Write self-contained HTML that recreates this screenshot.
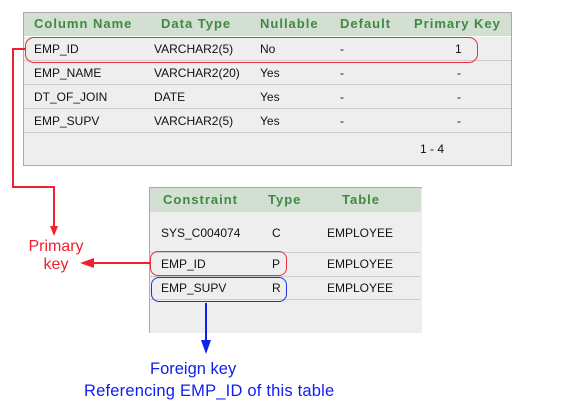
<!DOCTYPE html>
<html><head><style>
body{margin:0;width:562px;height:411px;background:#fff;position:relative;overflow:hidden;font-family:"Liberation Sans",Arial,sans-serif;}
.a{position:absolute;white-space:nowrap}
.h{font-weight:bold;color:#3f8a3f;font-size:13px;letter-spacing:1px}
.d{font-size:12px;color:#111}
</style></head><body>
<!-- table 1 -->
<div class="a" style="left:23px;top:12px;width:487px;height:152px;border:1px solid #aaa;background:#eeeeee"></div>
<div class="a" style="left:24px;top:13px;width:487px;height:23px;background:#d2dfd2"></div>
<div class="a" style="left:24px;top:60px;width:487px;height:1px;background:#ccc"></div>
<div class="a" style="left:24px;top:84px;width:487px;height:1px;background:#ccc"></div>
<div class="a" style="left:24px;top:108px;width:487px;height:1px;background:#ccc"></div>
<div class="a" style="left:24px;top:132px;width:487px;height:1px;background:#ccc"></div>
<div class="a" style="left:24px;top:36px;width:487px;height:1px;background:#fff"></div>
<div class="a h" style="left:34px;top:16px">Column Name</div>
<div class="a h" style="left:161px;top:16px">Data Type</div>
<div class="a h" style="left:260px;top:16px">Nullable</div>
<div class="a h" style="left:340px;top:16px">Default</div>
<div class="a h" style="left:414px;top:16px">Primary Key</div>
<div class="a d" style="left:34px;top:42px">EMP_ID</div><div class="a d" style="left:154px;top:42px">VARCHAR2(5)</div><div class="a d" style="left:260px;top:42px">No</div><div class="a d" style="left:340px;top:42px">-</div><div class="a d" style="left:455px;top:42px">1</div>
<div class="a d" style="left:34px;top:66px">EMP_NAME</div><div class="a d" style="left:154px;top:66px">VARCHAR2(20)</div><div class="a d" style="left:260px;top:66px">Yes</div><div class="a d" style="left:340px;top:66px">-</div><div class="a d" style="left:457px;top:66px">-</div>
<div class="a d" style="left:34px;top:90px">DT_OF_JOIN</div><div class="a d" style="left:154px;top:90px">DATE</div><div class="a d" style="left:260px;top:90px">Yes</div><div class="a d" style="left:340px;top:90px">-</div><div class="a d" style="left:457px;top:90px">-</div>
<div class="a d" style="left:34px;top:114px">EMP_SUPV</div><div class="a d" style="left:154px;top:114px">VARCHAR2(5)</div><div class="a d" style="left:260px;top:114px">Yes</div><div class="a d" style="left:340px;top:114px">-</div><div class="a d" style="left:457px;top:114px">-</div>
<div class="a d" style="left:420px;top:142px">1 - 4</div>
<div class="a" style="left:25px;top:37px;width:451px;height:24px;border:1px solid #e83040;border-radius:9px"></div>
<!-- table 2 -->
<div class="a" style="left:149px;top:187px;width:272px;height:145px;background:#eeeeee;border-left:1px solid #aaa;border-top:1px solid #aaa"></div>
<div class="a" style="left:150px;top:188px;width:271px;height:24px;background:#d2dfd2"></div>
<div class="a" style="left:150px;top:252px;width:271px;height:1px;background:#ccc"></div>
<div class="a" style="left:150px;top:276px;width:271px;height:1px;background:#ccc"></div>
<div class="a" style="left:150px;top:299px;width:271px;height:1px;background:#ccc"></div>
<div class="a h" style="left:163px;top:192px">Constraint</div>
<div class="a h" style="left:268px;top:192px">Type</div>
<div class="a h" style="left:342px;top:192px">Table</div>
<div class="a d" style="left:161px;top:226px">SYS_C004074</div><div class="a d" style="left:272px;top:226px">C</div><div class="a d" style="left:327px;top:226px">EMPLOYEE</div>
<div class="a d" style="left:161px;top:257px">EMP_ID</div><div class="a d" style="left:272px;top:257px">P</div><div class="a d" style="left:327px;top:257px">EMPLOYEE</div>
<div class="a d" style="left:161px;top:281px">EMP_SUPV</div><div class="a d" style="left:272px;top:281px">R</div><div class="a d" style="left:327px;top:281px">EMPLOYEE</div>
<div class="a" style="left:150px;top:251px;width:135px;height:23px;border:1px solid #e83040;border-radius:8px"></div>
<div class="a" style="left:151px;top:277px;width:134px;height:23px;border:1px solid #2030e0;border-radius:8px"></div>
<svg class="a" style="left:0;top:0" width="562" height="411">
<polyline points="25,49 13,49 13,187 54,187 54,228" fill="none" stroke="#f02030" stroke-width="2"/>
<polygon points="50,226 58,226 54,236" fill="#f02030"/>
<line x1="150" y1="263" x2="90" y2="263" stroke="#f02030" stroke-width="2"/>
<polygon points="80,263 94,258 94,268" fill="#f02030"/>
<line x1="206" y1="303" x2="206" y2="342" stroke="#1020f0" stroke-width="2"/>
<polygon points="201,340 211,340 206,354" fill="#1020f0"/>
</svg>
<div class="a" style="left:20px;top:238px;width:72px;text-align:center;color:#f02030;font-size:16px;line-height:18px">Primary<br>key</div>
<div class="a" style="left:150px;top:360px;color:#1020f0;font-size:16.5px">Foreign key</div>
<div class="a" style="left:84px;top:382px;color:#1020f0;font-size:16.5px;letter-spacing:0.2px">Referencing EMP_ID of this table</div>
</body></html>
